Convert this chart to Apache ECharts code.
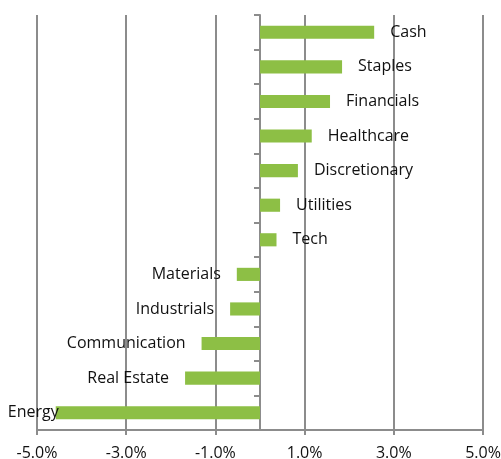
<!DOCTYPE html>
<html>
<head>
<meta charset="utf-8">
<script src="https://cdn.jsdelivr.net/npm/echarts@6/dist/echarts.min.js"></script>
<style>
  html, body { margin: 0; padding: 0; background: #fff; }
  #chart { width: 501px; height: 459px; }
</style>
</head>
<body>
<div id="chart"></div>
<script>
const sectors = ['Cash', 'Staples', 'Financials', 'Healthcare', 'Discretionary', 'Utilities', 'Tech',
  'Materials', 'Industrials', 'Communication', 'Real Estate', 'Energy']
const returns = [2.56, 1.84, 1.57, 1.16, 0.85, 0.45, 0.37, -0.52, -0.67, -1.31, -1.68, -4.58]

const BAR_COLOR = '#8DBF45'
const GRID_COLOR = '#8C8C8C'
const TEXT_COLOR = '#111111'
const FONT = 'Open Sans'

const chart = echarts.init(document.getElementById('chart'))

const seriesData = returns.map((v, i) => {
  const isLeft = v < 0
  // the longest bar's label would run off the page, so it sits over the bar end
  const distance = i === returns.length - 1 ? -3 : 16
  return {
    value: v,
    label: { position: isLeft ? 'left' : 'right', distance },
  }
})

chart.setOption({
  animation: false,
  grid: { left: 37, right: 18, top: 15, bottom: 29, outerBoundsMode: 'none', containLabel: false },
  xAxis: {
    type: 'value',
    min: -5,
    max: 5,
    interval: 2,
    axisLine: { show: true, onZero: false, lineStyle: { color: GRID_COLOR, width: 2 } },
    axisTick: { show: true, length: 5, lineStyle: { color: GRID_COLOR, width: 2 } },
    axisLabel: {
      formatter: (v) => v.toFixed(1) + '%',
      color: TEXT_COLOR,
      fontFamily: FONT,
      fontSize: 16,
      margin: 15,
    },
    splitLine: { show: true, lineStyle: { color: GRID_COLOR, width: 2 } },
  },
  yAxis: {
    type: 'category',
    inverse: true,
    data: sectors,
    axisLine: { show: true, onZero: true, lineStyle: { color: GRID_COLOR, width: 2 } },
    axisTick: { show: true, length: 6, lineStyle: { color: GRID_COLOR, width: 2 } },
    axisLabel: { show: false },
    splitLine: { show: false },
  },
  series: [
    {
      type: 'bar',
      data: seriesData,
      barWidth: '38%',
      itemStyle: { color: BAR_COLOR },
      label: {
        show: true,
        formatter: (p) => sectors[p.dataIndex],
        color: TEXT_COLOR,
        fontFamily: FONT,
        fontSize: 16,
      },
    },
  ],
})
</script>
</body>
</html>
